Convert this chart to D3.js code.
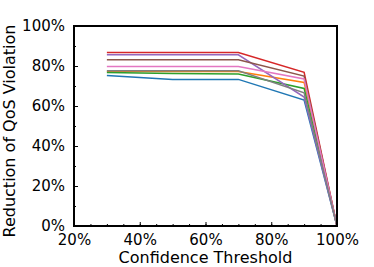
<!DOCTYPE html>
<html>
<head>
<meta charset="utf-8">
<script src="https://cdn.jsdelivr.net/npm/d3@7"></script>
<style>
  body { margin: 0; background: #fff; }
  text { font-family: "DejaVu Sans", sans-serif; }
</style>
</head>
<body>
<div id="chart"></div>
<script>
// confidence thresholds on the x axis
var thresholds = [0.3, 0.5, 0.7, 0.9, 1.0];

// one line per run
var seriesBlue   = [0.752, 0.733, 0.733, 0.630, 0];
var seriesOrange = [0.772, 0.772, 0.772, 0.718, 0];
var seriesGreen  = [0.767, 0.762, 0.760, 0.688, 0];
var seriesRed    = [0.867, 0.867, 0.867, 0.768, 0];
var seriesPurple = [0.856, 0.856, 0.856, 0.645, 0];
var seriesBrown  = [0.831, 0.831, 0.831, 0.750, 0];
var seriesPink   = [0.797, 0.797, 0.797, 0.735, 0];
var seriesGray   = [0.776, 0.776, 0.776, 0.666, 0];

var allSeries = [seriesBlue, seriesOrange, seriesGreen, seriesRed,
                 seriesPurple, seriesBrown, seriesPink, seriesGray];
var colors = ["#1f77b4", "#ff7f0e", "#2ca02c", "#d62728",
              "#9467bd", "#8c564b", "#e377c2", "#7f7f7f"];

var xTicks = [0.2, 0.4, 0.6, 0.8, 1.0];
var yTicks = [0, 0.2, 0.4, 0.6, 0.8, 1.0];

var margin = {top: 26, right: 37, bottom: 41, left: 74},
    width = 374 - margin.left - margin.right,
    height = 267 - margin.top - margin.bottom;

var svg = d3.select("#chart")
    .append("svg")
        .attr("width", 374)
        .attr("height", 267)
    .append("g")
        .attr("transform", "translate(" + margin.left + "," + margin.top + ")");

var x = d3.scaleLinear().domain([0.2, 1.0]).range([0, width]);
var y = d3.scaleLinear().domain([0, 1.0]).range([height, 0]);

var line = d3.line()
    .x(function(d, i) { return x(thresholds[i]); })
    .y(function(d) { return y(d); });

allSeries.forEach(function(s, i) {
    svg.append("path")
        .attr("fill", "none")
        .attr("stroke", colors[i])
        .attr("stroke-width", 1.5)
        .attr("d", line(s));
});

// minor ticks (inward)
svg.append("g")
    .attr("transform", "translate(0," + height + ")")
    .call(d3.axisBottom(x).tickValues(d3.range(0.2, 1.001, 0.05)).tickSize(-2).tickFormat(""))
    .call(function(g) { g.select(".domain").remove(); });
svg.append("g")
    .call(d3.axisLeft(y).tickValues(d3.range(0, 1.001, 0.1)).tickSize(-2).tickFormat(""))
    .call(function(g) { g.select(".domain").remove(); });

// major ticks + labels
var xAxis = svg.append("g")
    .attr("transform", "translate(0," + height + ")")
    .call(d3.axisBottom(x).tickValues(xTicks).tickSize(-4).tickPadding(8).tickFormat(d3.format(".0%")));
xAxis.select(".domain").remove();
xAxis.selectAll("text").attr("font-size", 15).attr("fill", "#000");

var yAxis = svg.append("g")
    .call(d3.axisLeft(y).tickValues(yTicks).tickSize(-4).tickPadding(9).tickFormat(d3.format(".0%")));
yAxis.select(".domain").remove();
yAxis.selectAll("text").attr("font-size", 15).attr("fill", "#000");

// frame
svg.append("rect")
    .attr("width", width)
    .attr("height", height)
    .attr("fill", "none")
    .attr("stroke", "#000")
    .attr("stroke-width", 2);

svg.append("text")
    .attr("x", width / 2)
    .attr("y", height + 37)
    .attr("text-anchor", "middle")
    .attr("font-size", 16)
    .text("Confidence Threshold");

svg.append("text")
    .attr("transform", "rotate(-90)")
    .attr("x", -105)
    .attr("y", -margin.left + 15)
    .attr("text-anchor", "middle")
    .attr("font-size", 16)
    .text("Reduction of QoS Violation");
</script>
</body>
</html>
